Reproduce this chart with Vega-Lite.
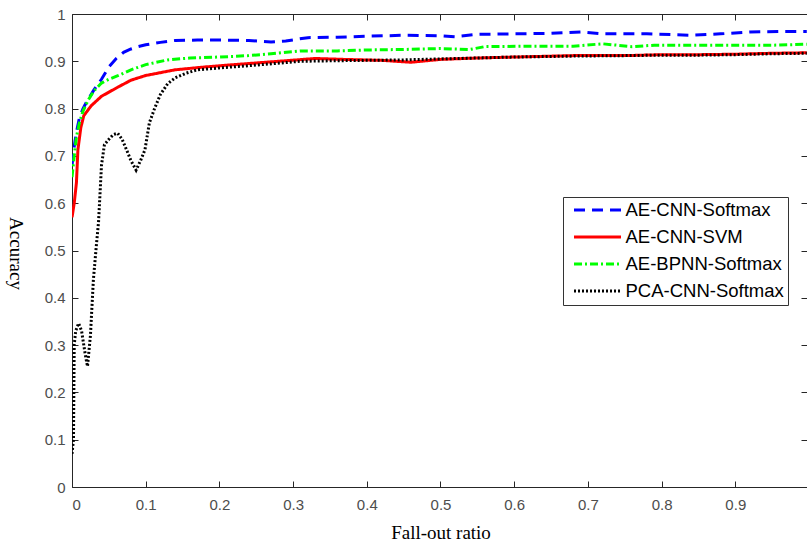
{
  "$schema": "https://vega.github.io/schema/vega-lite/v6.json",
  "width": 735,
  "height": 473,
  "autosize": {"type": "none"},
  "padding": {"left": 72, "top": 14, "right": 0, "bottom": 55},
  "background": "white",
  "datasets": {
    "curves": [
      {"model": "AE-CNN-Softmax", "x": 0, "y": 0.68},
      {"model": "AE-CNN-Softmax", "x": 0.003, "y": 0.72},
      {"model": "AE-CNN-Softmax", "x": 0.006, "y": 0.75},
      {"model": "AE-CNN-Softmax", "x": 0.01, "y": 0.78},
      {"model": "AE-CNN-Softmax", "x": 0.015, "y": 0.8},
      {"model": "AE-CNN-Softmax", "x": 0.02, "y": 0.815},
      {"model": "AE-CNN-Softmax", "x": 0.03, "y": 0.84},
      {"model": "AE-CNN-Softmax", "x": 0.04, "y": 0.862},
      {"model": "AE-CNN-Softmax", "x": 0.05, "y": 0.888},
      {"model": "AE-CNN-Softmax", "x": 0.06, "y": 0.906},
      {"model": "AE-CNN-Softmax", "x": 0.07, "y": 0.919},
      {"model": "AE-CNN-Softmax", "x": 0.08, "y": 0.926},
      {"model": "AE-CNN-Softmax", "x": 0.09, "y": 0.931},
      {"model": "AE-CNN-Softmax", "x": 0.1, "y": 0.935},
      {"model": "AE-CNN-Softmax", "x": 0.12, "y": 0.94},
      {"model": "AE-CNN-Softmax", "x": 0.14, "y": 0.944},
      {"model": "AE-CNN-Softmax", "x": 0.17, "y": 0.945},
      {"model": "AE-CNN-Softmax", "x": 0.2, "y": 0.945},
      {"model": "AE-CNN-Softmax", "x": 0.24, "y": 0.944},
      {"model": "AE-CNN-Softmax", "x": 0.27, "y": 0.941},
      {"model": "AE-CNN-Softmax", "x": 0.29, "y": 0.943},
      {"model": "AE-CNN-Softmax", "x": 0.32, "y": 0.95},
      {"model": "AE-CNN-Softmax", "x": 0.36, "y": 0.951},
      {"model": "AE-CNN-Softmax", "x": 0.4, "y": 0.953},
      {"model": "AE-CNN-Softmax", "x": 0.45, "y": 0.955},
      {"model": "AE-CNN-Softmax", "x": 0.5, "y": 0.954},
      {"model": "AE-CNN-Softmax", "x": 0.52, "y": 0.952},
      {"model": "AE-CNN-Softmax", "x": 0.55, "y": 0.957},
      {"model": "AE-CNN-Softmax", "x": 0.6, "y": 0.958},
      {"model": "AE-CNN-Softmax", "x": 0.65, "y": 0.959},
      {"model": "AE-CNN-Softmax", "x": 0.69, "y": 0.962},
      {"model": "AE-CNN-Softmax", "x": 0.72, "y": 0.958},
      {"model": "AE-CNN-Softmax", "x": 0.78, "y": 0.958},
      {"model": "AE-CNN-Softmax", "x": 0.84, "y": 0.955},
      {"model": "AE-CNN-Softmax", "x": 0.88, "y": 0.958},
      {"model": "AE-CNN-Softmax", "x": 0.92, "y": 0.962},
      {"model": "AE-CNN-Softmax", "x": 0.96, "y": 0.963},
      {"model": "AE-CNN-Softmax", "x": 0.997, "y": 0.963},
      {"model": "AE-CNN-SVM", "x": 0, "y": 0.57},
      {"model": "AE-CNN-SVM", "x": 0.003, "y": 0.6},
      {"model": "AE-CNN-SVM", "x": 0.006, "y": 0.643},
      {"model": "AE-CNN-SVM", "x": 0.008, "y": 0.713},
      {"model": "AE-CNN-SVM", "x": 0.012, "y": 0.76},
      {"model": "AE-CNN-SVM", "x": 0.016, "y": 0.785},
      {"model": "AE-CNN-SVM", "x": 0.026, "y": 0.806},
      {"model": "AE-CNN-SVM", "x": 0.04, "y": 0.826},
      {"model": "AE-CNN-SVM", "x": 0.063, "y": 0.846},
      {"model": "AE-CNN-SVM", "x": 0.08, "y": 0.86},
      {"model": "AE-CNN-SVM", "x": 0.1, "y": 0.87},
      {"model": "AE-CNN-SVM", "x": 0.14, "y": 0.882},
      {"model": "AE-CNN-SVM", "x": 0.18, "y": 0.888},
      {"model": "AE-CNN-SVM", "x": 0.22, "y": 0.893},
      {"model": "AE-CNN-SVM", "x": 0.28, "y": 0.9},
      {"model": "AE-CNN-SVM", "x": 0.33, "y": 0.906},
      {"model": "AE-CNN-SVM", "x": 0.37, "y": 0.904},
      {"model": "AE-CNN-SVM", "x": 0.42, "y": 0.902},
      {"model": "AE-CNN-SVM", "x": 0.46, "y": 0.898},
      {"model": "AE-CNN-SVM", "x": 0.5, "y": 0.904},
      {"model": "AE-CNN-SVM", "x": 0.55, "y": 0.907},
      {"model": "AE-CNN-SVM", "x": 0.6, "y": 0.909},
      {"model": "AE-CNN-SVM", "x": 0.68, "y": 0.912},
      {"model": "AE-CNN-SVM", "x": 0.75, "y": 0.912},
      {"model": "AE-CNN-SVM", "x": 0.8, "y": 0.914},
      {"model": "AE-CNN-SVM", "x": 0.85, "y": 0.914},
      {"model": "AE-CNN-SVM", "x": 0.9, "y": 0.915},
      {"model": "AE-CNN-SVM", "x": 0.95, "y": 0.917},
      {"model": "AE-CNN-SVM", "x": 0.997, "y": 0.918},
      {"model": "AE-BPNN-Softmax", "x": 0, "y": 0.655},
      {"model": "AE-BPNN-Softmax", "x": 0.003, "y": 0.7},
      {"model": "AE-BPNN-Softmax", "x": 0.006, "y": 0.74},
      {"model": "AE-BPNN-Softmax", "x": 0.01, "y": 0.77},
      {"model": "AE-BPNN-Softmax", "x": 0.015, "y": 0.795},
      {"model": "AE-BPNN-Softmax", "x": 0.022, "y": 0.818},
      {"model": "AE-BPNN-Softmax", "x": 0.03, "y": 0.838},
      {"model": "AE-BPNN-Softmax", "x": 0.04, "y": 0.854},
      {"model": "AE-BPNN-Softmax", "x": 0.05, "y": 0.862},
      {"model": "AE-BPNN-Softmax", "x": 0.063, "y": 0.87},
      {"model": "AE-BPNN-Softmax", "x": 0.08, "y": 0.882},
      {"model": "AE-BPNN-Softmax", "x": 0.1, "y": 0.893},
      {"model": "AE-BPNN-Softmax", "x": 0.13, "y": 0.903},
      {"model": "AE-BPNN-Softmax", "x": 0.16, "y": 0.907},
      {"model": "AE-BPNN-Softmax", "x": 0.2, "y": 0.909},
      {"model": "AE-BPNN-Softmax", "x": 0.24, "y": 0.912},
      {"model": "AE-BPNN-Softmax", "x": 0.27, "y": 0.916},
      {"model": "AE-BPNN-Softmax", "x": 0.31, "y": 0.922},
      {"model": "AE-BPNN-Softmax", "x": 0.36, "y": 0.922},
      {"model": "AE-BPNN-Softmax", "x": 0.4, "y": 0.924},
      {"model": "AE-BPNN-Softmax", "x": 0.45, "y": 0.925},
      {"model": "AE-BPNN-Softmax", "x": 0.5, "y": 0.927},
      {"model": "AE-BPNN-Softmax", "x": 0.54, "y": 0.925},
      {"model": "AE-BPNN-Softmax", "x": 0.56, "y": 0.931},
      {"model": "AE-BPNN-Softmax", "x": 0.62, "y": 0.932},
      {"model": "AE-BPNN-Softmax", "x": 0.68, "y": 0.932},
      {"model": "AE-BPNN-Softmax", "x": 0.72, "y": 0.937},
      {"model": "AE-BPNN-Softmax", "x": 0.76, "y": 0.931},
      {"model": "AE-BPNN-Softmax", "x": 0.79, "y": 0.934},
      {"model": "AE-BPNN-Softmax", "x": 0.85, "y": 0.934},
      {"model": "AE-BPNN-Softmax", "x": 0.9, "y": 0.934},
      {"model": "AE-BPNN-Softmax", "x": 0.95, "y": 0.934},
      {"model": "AE-BPNN-Softmax", "x": 0.997, "y": 0.936},
      {"model": "PCA-CNN-Softmax", "x": 0, "y": 0.07},
      {"model": "PCA-CNN-Softmax", "x": 0.002, "y": 0.1},
      {"model": "PCA-CNN-Softmax", "x": 0.003, "y": 0.3},
      {"model": "PCA-CNN-Softmax", "x": 0.005, "y": 0.33},
      {"model": "PCA-CNN-Softmax", "x": 0.009, "y": 0.346},
      {"model": "PCA-CNN-Softmax", "x": 0.013, "y": 0.33},
      {"model": "PCA-CNN-Softmax", "x": 0.018, "y": 0.28},
      {"model": "PCA-CNN-Softmax", "x": 0.021, "y": 0.255},
      {"model": "PCA-CNN-Softmax", "x": 0.025, "y": 0.32},
      {"model": "PCA-CNN-Softmax", "x": 0.029, "y": 0.438},
      {"model": "PCA-CNN-Softmax", "x": 0.033, "y": 0.51},
      {"model": "PCA-CNN-Softmax", "x": 0.036, "y": 0.56},
      {"model": "PCA-CNN-Softmax", "x": 0.04, "y": 0.68},
      {"model": "PCA-CNN-Softmax", "x": 0.044, "y": 0.724},
      {"model": "PCA-CNN-Softmax", "x": 0.05, "y": 0.735},
      {"model": "PCA-CNN-Softmax", "x": 0.056, "y": 0.745},
      {"model": "PCA-CNN-Softmax", "x": 0.062, "y": 0.748},
      {"model": "PCA-CNN-Softmax", "x": 0.068, "y": 0.735},
      {"model": "PCA-CNN-Softmax", "x": 0.074, "y": 0.713},
      {"model": "PCA-CNN-Softmax", "x": 0.08, "y": 0.69},
      {"model": "PCA-CNN-Softmax", "x": 0.087, "y": 0.67},
      {"model": "PCA-CNN-Softmax", "x": 0.093, "y": 0.69},
      {"model": "PCA-CNN-Softmax", "x": 0.099, "y": 0.713},
      {"model": "PCA-CNN-Softmax", "x": 0.105, "y": 0.77},
      {"model": "PCA-CNN-Softmax", "x": 0.112, "y": 0.8},
      {"model": "PCA-CNN-Softmax", "x": 0.12, "y": 0.83},
      {"model": "PCA-CNN-Softmax", "x": 0.13, "y": 0.853},
      {"model": "PCA-CNN-Softmax", "x": 0.14, "y": 0.865},
      {"model": "PCA-CNN-Softmax", "x": 0.155, "y": 0.875},
      {"model": "PCA-CNN-Softmax", "x": 0.17, "y": 0.882},
      {"model": "PCA-CNN-Softmax", "x": 0.2, "y": 0.886},
      {"model": "PCA-CNN-Softmax", "x": 0.25, "y": 0.892},
      {"model": "PCA-CNN-Softmax", "x": 0.31, "y": 0.9},
      {"model": "PCA-CNN-Softmax", "x": 0.35, "y": 0.901},
      {"model": "PCA-CNN-Softmax", "x": 0.4, "y": 0.902},
      {"model": "PCA-CNN-Softmax", "x": 0.45, "y": 0.903},
      {"model": "PCA-CNN-Softmax", "x": 0.5, "y": 0.905},
      {"model": "PCA-CNN-Softmax", "x": 0.55, "y": 0.907},
      {"model": "PCA-CNN-Softmax", "x": 0.6, "y": 0.909},
      {"model": "PCA-CNN-Softmax", "x": 0.68, "y": 0.911},
      {"model": "PCA-CNN-Softmax", "x": 0.75, "y": 0.912},
      {"model": "PCA-CNN-Softmax", "x": 0.8, "y": 0.913},
      {"model": "PCA-CNN-Softmax", "x": 0.85, "y": 0.913},
      {"model": "PCA-CNN-Softmax", "x": 0.9, "y": 0.914},
      {"model": "PCA-CNN-Softmax", "x": 0.95, "y": 0.916},
      {"model": "PCA-CNN-Softmax", "x": 0.997, "y": 0.917}
    ]
  },
  "data": {"name": "curves"},
  "resolve": {"axis": {"x": "independent", "y": "independent"}},
  "layer": [
    {
      "mark": {"type": "line", "strokeWidth": 3, "clip": true},
      "encoding": {
        "x": {
          "field": "x", "type": "quantitative",
          "scale": {"domain": [0, 0.9973], "nice": false, "zero": false},
          "axis": {
            "orient": "bottom",
            "values": [0, 0.1, 0.2, 0.3, 0.4, 0.5, 0.6, 0.7, 0.8, 0.9],
            "labelExpr": "format(datum.value, '.1~f')",
            "tickSize": -6,
            "labelPadding": 16,
            "title": "Fall-out ratio",
            "titleX": 368.5,
            "titleY": 51,
            "titleAlign": "center",
            "titleBaseline": "alphabetic"
          }
        },
        "y": {
          "field": "y", "type": "quantitative",
          "scale": {"domain": [0, 1], "nice": false},
          "axis": {
            "orient": "left",
            "values": [0, 0.1, 0.2, 0.3, 0.4, 0.5, 0.6, 0.7, 0.8, 0.9, 1],
            "labelExpr": "format(datum.value, '.1~f')",
            "tickSize": -6,
            "labelPadding": 13,
            "title": "Accuracy",
            "titleAngle": 90,
            "titleX": -57,
            "titleY": 239,
            "titleAlign": "center",
            "titleBaseline": "middle"
          }
        },
        "color": {
          "field": "model", "type": "nominal",
          "scale": {
            "domain": ["AE-CNN-Softmax", "AE-CNN-SVM", "AE-BPNN-Softmax", "PCA-CNN-Softmax"],
            "range": ["#0000ff", "#ff0000", "#00ff00", "#000000"]
          },
          "legend": {"title": null}
        },
        "strokeDash": {
          "field": "model", "type": "nominal",
          "scale": {
            "domain": ["AE-CNN-Softmax", "AE-CNN-SVM", "AE-BPNN-Softmax", "PCA-CNN-Softmax"],
            "range": [[11, 7], [1, 0], [8, 3, 2, 3], [2, 2]]
          },
          "legend": {"title": null}
        }
      }
    },
    {
      "mark": {"type": "line", "opacity": 0},
      "encoding": {
        "x": {
          "field": "x", "type": "quantitative",
          "axis": {
            "orient": "top",
            "values": [0, 0.1, 0.2, 0.3, 0.4, 0.5, 0.6, 0.7, 0.8, 0.9],
            "labels": false,
            "tickSize": -6,
            "title": null
          }
        },
        "y": {
          "field": "y", "type": "quantitative",
          "axis": {
            "orient": "right",
            "values": [0, 0.1, 0.2, 0.3, 0.4, 0.5, 0.6, 0.7, 0.8, 0.9, 1],
            "labels": false,
            "domain": false,
            "tickSize": -6,
            "title": null
          }
        },
        "detail": {"field": "model"}
      }
    }
  ],
  "config": {
    "view": {"stroke": null},
    "axis": {
      "grid": false,
      "domainColor": "#262626",
      "tickColor": "#262626",
      "labelColor": "#4d4d4d",
      "labelFont": "Liberation Sans",
      "labelFontSize": 15,
      "titleFont": "Liberation Serif",
      "titleFontSize": 19,
      "titleFontWeight": "normal",
      "titleColor": "#000000"
    },
    "legend": {
      "orient": "none",
      "legendX": 491,
      "legendY": 183,
      "padding": 4,
      "strokeColor": "#333333",
      "fillColor": "#ffffff",
      "symbolType": "stroke",
      "symbolSize": 2209,
      "symbolStrokeWidth": 3,
      "clipHeight": 18,
      "rowPadding": 8,
      "symbolOffset": 5.5,
      "labelOffset": 3,
      "labelFont": "Liberation Sans",
      "labelFontSize": 18.5,
      "labelColor": "#000000",
      "labelLimit": 300
    }
  }
}
